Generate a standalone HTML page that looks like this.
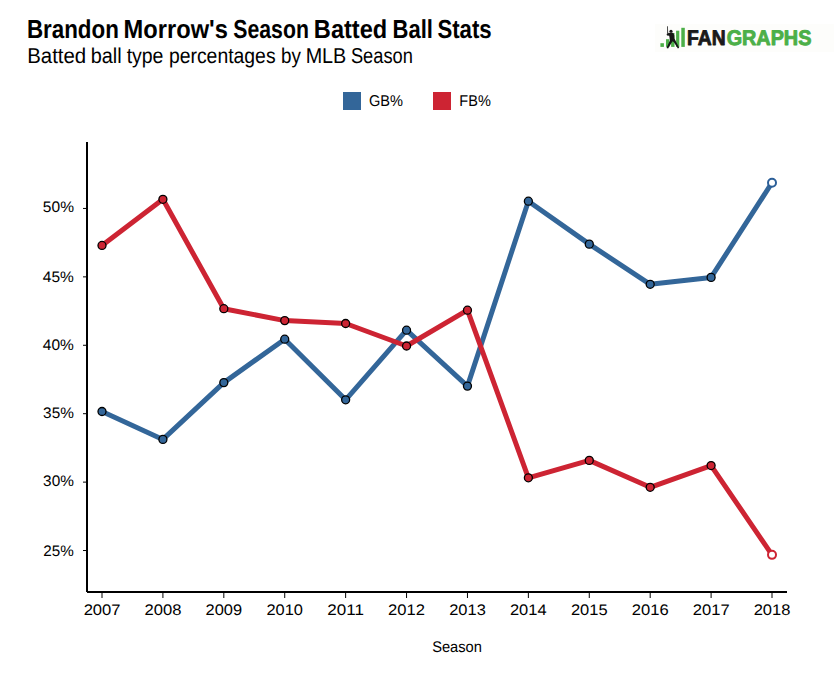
<!DOCTYPE html>
<html><head><meta charset="utf-8"><title>Brandon Morrow's Season Batted Ball Stats</title>
<style>
html,body{margin:0;padding:0;background:#fff;}
body{width:834px;height:675px;overflow:hidden;}
svg{display:block;font-family:"Liberation Sans", sans-serif;}
</style></head><body>
<svg width="834" height="675" viewBox="0 0 834 675" text-rendering="geometricPrecision">
<rect x="0" y="0" width="834" height="675" fill="#fff"/>
<text x="26.88" y="38.00" font-size="26" font-weight="bold" fill="#000" textLength="91.94" lengthAdjust="spacingAndGlyphs">Brandon</text>
<text x="123.61" y="38.00" font-size="26" font-weight="bold" fill="#000" textLength="104.28" lengthAdjust="spacingAndGlyphs">Morrow's</text>
<text x="233.26" y="38.00" font-size="26" font-weight="bold" fill="#000" textLength="75.62" lengthAdjust="spacingAndGlyphs">Season</text>
<text x="313.87" y="38.00" font-size="26" font-weight="bold" fill="#000" textLength="73.40" lengthAdjust="spacingAndGlyphs">Batted</text>
<text x="392.59" y="38.00" font-size="26" font-weight="bold" fill="#000" textLength="40.31" lengthAdjust="spacingAndGlyphs">Ball</text>
<text x="437.38" y="38.00" font-size="26" font-weight="bold" fill="#000" textLength="54.34" lengthAdjust="spacingAndGlyphs">Stats</text>
<text x="27.18" y="63.00" font-size="21.5" fill="#000" textLength="59.02" lengthAdjust="spacingAndGlyphs">Batted</text>
<text x="90.75" y="63.00" font-size="21.5" fill="#000" textLength="30.96" lengthAdjust="spacingAndGlyphs">ball</text>
<text x="126.64" y="63.00" font-size="21.5" fill="#000" textLength="36.84" lengthAdjust="spacingAndGlyphs">type</text>
<text x="168.90" y="63.00" font-size="21.5" fill="#000" textLength="106.71" lengthAdjust="spacingAndGlyphs">percentages</text>
<text x="280.99" y="63.00" font-size="21.5" fill="#000" textLength="19.91" lengthAdjust="spacingAndGlyphs">by</text>
<text x="305.67" y="63.00" font-size="21.5" fill="#000" textLength="40.63" lengthAdjust="spacingAndGlyphs">MLB</text>
<text x="350.88" y="63.00" font-size="21.5" fill="#000" textLength="61.97" lengthAdjust="spacingAndGlyphs">Season</text>
<rect x="343" y="92" width="18" height="18" fill="#336699"/>
<text x="368.99" y="106.00" font-size="15.6" fill="#000" textLength="33.99" lengthAdjust="spacingAndGlyphs">GB%</text>
<rect x="433" y="92" width="18" height="18" fill="#cd2433"/>
<text x="459.37" y="106.00" font-size="15.6" fill="#000" textLength="31.47" lengthAdjust="spacingAndGlyphs">FB%</text>
<path d="M87 142V592" stroke="#000" stroke-width="2" fill="none"/>
<path d="M87 592H787" stroke="#000" stroke-width="2" fill="none"/>
<path d="M83 208.45H86" stroke="#000" stroke-width="1"/>
<text x="42.88" y="212.00" font-size="15.3" fill="#000" textLength="31.11" lengthAdjust="spacingAndGlyphs">50%</text>
<path d="M83 276.87H86" stroke="#000" stroke-width="1"/>
<text x="42.85" y="282.00" font-size="15.3" fill="#000" textLength="31.05" lengthAdjust="spacingAndGlyphs">45%</text>
<path d="M83 345.28H86" stroke="#000" stroke-width="1"/>
<text x="42.85" y="350.00" font-size="15.3" fill="#000" textLength="31.05" lengthAdjust="spacingAndGlyphs">40%</text>
<path d="M83 413.69H86" stroke="#000" stroke-width="1"/>
<text x="43.09" y="418.00" font-size="15.3" fill="#000" textLength="30.77" lengthAdjust="spacingAndGlyphs">35%</text>
<path d="M83 482.11H86" stroke="#000" stroke-width="1"/>
<text x="43.09" y="486.00" font-size="15.3" fill="#000" textLength="30.77" lengthAdjust="spacingAndGlyphs">30%</text>
<path d="M83 550.52H86" stroke="#000" stroke-width="1"/>
<text x="43.34" y="556.00" font-size="15.3" fill="#000" textLength="30.55" lengthAdjust="spacingAndGlyphs">25%</text>
<path d="M102.00 593V598" stroke="#000" stroke-width="1"/>
<text x="83.65" y="615.00" font-size="15.3" fill="#000" textLength="36.91" lengthAdjust="spacingAndGlyphs">2007</text>
<path d="M162.91 593V598" stroke="#000" stroke-width="1"/>
<text x="144.50" y="615.00" font-size="15.3" fill="#000" textLength="36.88" lengthAdjust="spacingAndGlyphs">2008</text>
<path d="M223.82 593V598" stroke="#000" stroke-width="1"/>
<text x="205.59" y="615.00" font-size="15.3" fill="#000" textLength="36.55" lengthAdjust="spacingAndGlyphs">2009</text>
<path d="M284.73 593V598" stroke="#000" stroke-width="1"/>
<text x="266.47" y="615.00" font-size="15.3" fill="#000" textLength="36.54" lengthAdjust="spacingAndGlyphs">2010</text>
<path d="M345.64 593V598" stroke="#000" stroke-width="1"/>
<text x="327.35" y="615.00" font-size="15.3" fill="#000" textLength="36.63" lengthAdjust="spacingAndGlyphs">2011</text>
<path d="M406.55 593V598" stroke="#000" stroke-width="1"/>
<text x="388.11" y="615.00" font-size="15.3" fill="#000" textLength="36.89" lengthAdjust="spacingAndGlyphs">2012</text>
<path d="M467.46 593V598" stroke="#000" stroke-width="1"/>
<text x="449.23" y="615.00" font-size="15.3" fill="#000" textLength="36.58" lengthAdjust="spacingAndGlyphs">2013</text>
<path d="M528.37 593V598" stroke="#000" stroke-width="1"/>
<text x="509.95" y="615.00" font-size="15.3" fill="#000" textLength="36.61" lengthAdjust="spacingAndGlyphs">2014</text>
<path d="M589.28 593V598" stroke="#000" stroke-width="1"/>
<text x="570.94" y="615.00" font-size="15.3" fill="#000" textLength="36.65" lengthAdjust="spacingAndGlyphs">2015</text>
<path d="M650.19 593V598" stroke="#000" stroke-width="1"/>
<text x="631.74" y="615.00" font-size="15.3" fill="#000" textLength="36.86" lengthAdjust="spacingAndGlyphs">2016</text>
<path d="M711.10 593V598" stroke="#000" stroke-width="1"/>
<text x="692.74" y="615.00" font-size="15.3" fill="#000" textLength="36.87" lengthAdjust="spacingAndGlyphs">2017</text>
<path d="M772.01 593V598" stroke="#000" stroke-width="1"/>
<text x="753.67" y="615.00" font-size="15.3" fill="#000" textLength="36.76" lengthAdjust="spacingAndGlyphs">2018</text>
<text x="432.15" y="651.70" font-size="15.5" fill="#000" textLength="49.78" lengthAdjust="spacingAndGlyphs">Season</text>
<polyline points="102.00,411.50 162.91,439.40 223.82,382.60 284.73,339.20 345.64,399.80 406.55,330.20 467.46,386.10 528.37,201.20 589.28,244.15 650.19,284.30 711.10,277.40 772.01,182.70" fill="none" stroke="#336699" stroke-width="5" stroke-linejoin="round"/>
<polyline points="102.00,245.45 162.91,199.30 223.82,308.70 284.73,320.60 345.64,323.50 406.55,346.00 467.46,310.20 528.37,477.80 589.28,460.40 650.19,487.30 711.10,465.55 772.01,554.85" fill="none" stroke="#cd2433" stroke-width="5" stroke-linejoin="round"/>
<circle cx="102.00" cy="411.50" r="4" fill="#336699" stroke="#000" stroke-width="1.3"/>
<circle cx="162.91" cy="439.40" r="4" fill="#336699" stroke="#000" stroke-width="1.3"/>
<circle cx="223.82" cy="382.60" r="4" fill="#336699" stroke="#000" stroke-width="1.3"/>
<circle cx="284.73" cy="339.20" r="4" fill="#336699" stroke="#000" stroke-width="1.3"/>
<circle cx="345.64" cy="399.80" r="4" fill="#336699" stroke="#000" stroke-width="1.3"/>
<circle cx="406.55" cy="330.20" r="4" fill="#336699" stroke="#000" stroke-width="1.3"/>
<circle cx="467.46" cy="386.10" r="4" fill="#336699" stroke="#000" stroke-width="1.3"/>
<circle cx="528.37" cy="201.20" r="4" fill="#336699" stroke="#000" stroke-width="1.3"/>
<circle cx="589.28" cy="244.15" r="4" fill="#336699" stroke="#000" stroke-width="1.3"/>
<circle cx="650.19" cy="284.30" r="4" fill="#336699" stroke="#000" stroke-width="1.3"/>
<circle cx="711.10" cy="277.40" r="4" fill="#336699" stroke="#000" stroke-width="1.3"/>
<circle cx="772.01" cy="182.70" r="4" fill="#fff" stroke="#2c5f98" stroke-width="2"/>
<circle cx="102.00" cy="245.45" r="4" fill="#cd2433" stroke="#000" stroke-width="1.3"/>
<circle cx="162.91" cy="199.30" r="4" fill="#cd2433" stroke="#000" stroke-width="1.3"/>
<circle cx="223.82" cy="308.70" r="4" fill="#cd2433" stroke="#000" stroke-width="1.3"/>
<circle cx="284.73" cy="320.60" r="4" fill="#cd2433" stroke="#000" stroke-width="1.3"/>
<circle cx="345.64" cy="323.50" r="4" fill="#cd2433" stroke="#000" stroke-width="1.3"/>
<circle cx="406.55" cy="346.00" r="4" fill="#cd2433" stroke="#000" stroke-width="1.3"/>
<circle cx="467.46" cy="310.20" r="4" fill="#cd2433" stroke="#000" stroke-width="1.3"/>
<circle cx="528.37" cy="477.80" r="4" fill="#cd2433" stroke="#000" stroke-width="1.3"/>
<circle cx="589.28" cy="460.40" r="4" fill="#cd2433" stroke="#000" stroke-width="1.3"/>
<circle cx="650.19" cy="487.30" r="4" fill="#cd2433" stroke="#000" stroke-width="1.3"/>
<circle cx="711.10" cy="465.55" r="4" fill="#cd2433" stroke="#000" stroke-width="1.3"/>
<circle cx="772.01" cy="554.85" r="4" fill="#fff" stroke="#cd2433" stroke-width="2"/>
<g>
<rect x="655" y="24" width="179" height="28" fill="#fdfdfb"/>
<rect x="660.4" y="43.2" width="3.5" height="3.7" fill="#4caf48"/>
<rect x="666" y="39.2" width="3.3" height="7.7" fill="#4caf48"/>
<rect x="671.1" y="33" width="3.4" height="13.9" fill="#4caf48"/>
<rect x="676.1" y="30.7" width="3.2" height="16.2" fill="#4caf48"/>
<rect x="681.3" y="27.8" width="3.5" height="19.1" fill="#4caf48"/>
<g fill="#161616">
<path d="M667.2 26.3 L667.9 26.2 L668.2 33.6 L667.3 33.9 Z"/>
<circle cx="671.0" cy="31.2" r="1.55"/>
<path d="M666.6 33.9 L668.6 33.1 L671.4 32.6 L673.3 32.9 L674.3 35.5 L674.4 38.6 L679.2 47.8 L677.9 48.5 L673.7 41.9 L672.5 41.3 L668.1 48.6 L666.5 48.0 L669.9 40.6 L669.5 37.6 L669.2 35.7 L667.0 35.6 Z"/>
</g>
<text x="687.11" y="44.70" font-size="21.1" font-weight="bold" fill="#1a1a1a" stroke="#1a1a1a" stroke-width="0.9" stroke-linejoin="round" textLength="38.49" lengthAdjust="spacingAndGlyphs">FAN</text>
<text x="726.63" y="44.70" font-size="21.1" font-weight="bold" fill="#4caf48" stroke="#4caf48" stroke-width="0.9" stroke-linejoin="round" textLength="84.76" lengthAdjust="spacingAndGlyphs">GRAPHS</text>
</g>
</svg>
</body></html>
